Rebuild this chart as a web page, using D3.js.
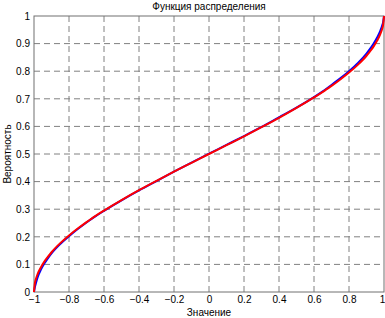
<!DOCTYPE html>
<html>
<head>
<meta charset="utf-8">
<script src="https://cdn.jsdelivr.net/npm/d3@7"></script>
<style>
  body { margin: 0; background: #fff; }
  text { font-family: "Liberation Sans", Arial, sans-serif; fill: #000; }
</style>
</head>
<body>
<script>
// values
const xs = [-1, -0.995, -0.99, -0.98, -0.96, -0.94, -0.92, -0.9, -0.85, -0.8, -0.75, -0.7, -0.65, -0.6,
  -0.5, -0.4, -0.3, -0.2, -0.1, 0, 0.1, 0.2, 0.3, 0.4, 0.5, 0.6, 0.65, 0.7, 0.75, 0.8, 0.85,
  0.9, 0.92, 0.94, 0.96, 0.98, 0.99, 0.995, 1];
const theory = [0, 0.032, 0.045, 0.064, 0.090, 0.111, 0.128, 0.144, 0.177, 0.205, 0.230, 0.253, 0.275, 0.295,
  0.333, 0.369, 0.403, 0.436, 0.468, 0.5, 0.532, 0.564, 0.597, 0.631, 0.667, 0.705, 0.725, 0.747, 0.770, 0.795, 0.823,
  0.856, 0.872, 0.889, 0.910, 0.936, 0.955, 0.968, 1];
const empirical = [0, 0.018, 0.030, 0.052, 0.082, 0.104, 0.123, 0.140, 0.174, 0.202, 0.228, 0.252, 0.274, 0.294,
  0.332, 0.368, 0.402, 0.436, 0.469, 0.501, 0.533, 0.565, 0.598, 0.633, 0.668, 0.706, 0.727, 0.750, 0.774, 0.800, 0.829,
  0.864, 0.881, 0.899, 0.921, 0.948, 0.966, 0.978, 1];
const xTicks = [-1, -0.8, -0.6, -0.4, -0.2, 0, 0.2, 0.4, 0.6, 0.8, 1];
const yTicks = [0, 0.1, 0.2, 0.3, 0.4, 0.5, 0.6, 0.7, 0.8, 0.9, 1];

const W = 385, H = 318;
const m = { left: 34, right: 1, top: 16, bottom: 26 };

const svg = d3.select('body').append('svg')
    .attr('width', W)
    .attr('height', H);

const x = d3.scaleLinear().domain([-1, 1]).range([m.left, W - m.right]);
const y = d3.scaleLinear().domain([0, 1]).range([H - m.bottom, m.top]);

// grid
svg.append('g').selectAll('line')
    .data(xTicks.slice(1, -1))
    .enter().append('line')
    .attr('x1', d => x(d)).attr('x2', d => x(d))
    .attr('y1', y(0)).attr('y2', y(1))
    .attr('stroke', '#808080')
    .attr('stroke-dasharray', '6,4');
svg.append('g').selectAll('line')
    .data(yTicks.slice(1, -1))
    .enter().append('line')
    .attr('y1', d => y(d)).attr('y2', d => y(d))
    .attr('x1', x(-1)).attr('x2', x(1))
    .attr('stroke', '#808080')
    .attr('stroke-dasharray', '6,4');

// axes
const xAxis = svg.append('g')
    .attr('transform', `translate(0,${y(0)})`)
    .call(d3.axisBottom(x).tickValues(xTicks).tickFormat(d3.format('')).tickSize(0).tickPadding(4));
const yAxis = svg.append('g')
    .attr('transform', `translate(${x(-1)},0)`)
    .call(d3.axisLeft(y).tickValues(yTicks).tickFormat(d3.format('')).tickSize(0).tickPadding(4));
[xAxis, yAxis].forEach(a => {
  a.select('.domain').remove();
  a.selectAll('text').attr('font-size', 10).style('font-family', '"Liberation Sans", Arial, sans-serif');
});
// keep the last x label inside the window
xAxis.selectAll('text').filter(d => d === 1).attr('dx', -2);

// frame
svg.append('rect')
    .attr('x', x(-1)).attr('y', y(1))
    .attr('width', x(1) - x(-1)).attr('height', y(0) - y(1))
    .attr('fill', 'none')
    .attr('stroke', '#707070');

// curves
const line = d3.line().x(d => x(d[0])).y(d => y(d[1])).curve(d3.curveMonotoneX);
svg.append('path')
    .datum(xs.map((v, i) => [v, empirical[i]]))
    .attr('d', line)
    .attr('fill', 'none')
    .attr('stroke', '#0000ff')
    .attr('stroke-width', 2);
svg.append('path')
    .datum(xs.map((v, i) => [v, theory[i]]))
    .attr('d', line)
    .attr('fill', 'none')
    .attr('stroke', '#ff0000')
    .attr('stroke-width', 2);

// labels
svg.append('text')
    .attr('x', (x(-1) + x(1)) / 2).attr('y', 10)
    .attr('text-anchor', 'middle')
    .attr('font-size', 10)
    .text('Функция распределения');
svg.append('text')
    .attr('x', (x(-1) + x(1)) / 2).attr('y', 316)
    .attr('text-anchor', 'middle')
    .attr('font-size', 10)
    .text('Значение');
svg.append('text')
    .attr('transform', `translate(11,${(y(0) + y(1)) / 2}) rotate(-90)`)
    .attr('text-anchor', 'middle')
    .attr('font-size', 10)
    .text('Вероятность');
</script>
</body>
</html>
